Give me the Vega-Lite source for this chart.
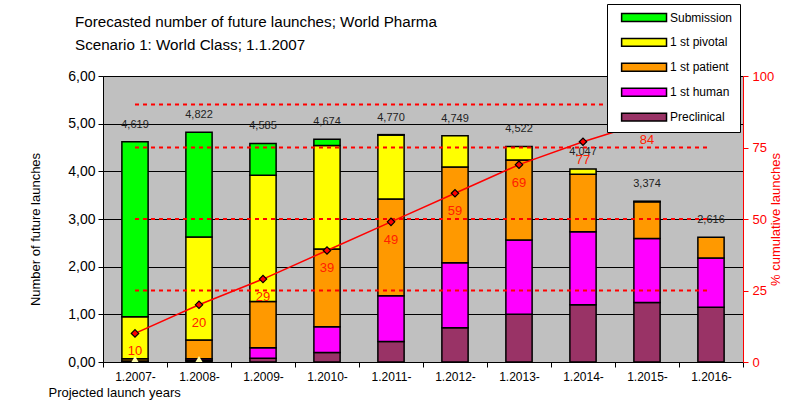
{
  "$schema": "https://vega.github.io/schema/vega-lite/v6.json",
  "width": 640,
  "height": 286,
  "autosize": {"type": "none"},
  "padding": {"left": 103, "top": 76, "right": 60, "bottom": 41},
  "title": {
    "text": ["Forecasted number of future launches; World Pharma", "\u00a0Scenario 1: World Class; 1.1.2007"],
    "anchor": "start",
    "frame": "group",
    "dx": -28,
    "offset": -50,
    "fontSize": 15.2,
    "fontWeight": "normal",
    "lineHeight": 23,
    "color": "#000"
  },
  "config": {
    "font": "Liberation Sans",
    "view": {"fill": "#C0C0C0", "stroke": null},
    "locale": {"number": {"decimal": ",", "thousands": ".", "grouping": [3], "currency": ["", ""]}}
  },
  "datasets": {
    "stages": [
      {"year": "1.2007-", "stage": "Preclinical", "phase": 1, "value": 0.01},
      {"year": "1.2007-", "stage": "1 st human", "phase": 2, "value": 0.01},
      {"year": "1.2007-", "stage": "1 st patient", "phase": 3, "value": 0.05},
      {"year": "1.2007-", "stage": "1 st pivotal", "phase": 4, "value": 0.88},
      {"year": "1.2007-", "stage": "Submission", "phase": 5, "value": 3.669},
      {"year": "1.2008-", "stage": "Preclinical", "phase": 1, "value": 0.03},
      {"year": "1.2008-", "stage": "1 st human", "phase": 2, "value": 0.04},
      {"year": "1.2008-", "stage": "1 st patient", "phase": 3, "value": 0.39},
      {"year": "1.2008-", "stage": "1 st pivotal", "phase": 4, "value": 2.16},
      {"year": "1.2008-", "stage": "Submission", "phase": 5, "value": 2.202},
      {"year": "1.2009-", "stage": "Preclinical", "phase": 1, "value": 0.08},
      {"year": "1.2009-", "stage": "1 st human", "phase": 2, "value": 0.22},
      {"year": "1.2009-", "stage": "1 st patient", "phase": 3, "value": 0.97},
      {"year": "1.2009-", "stage": "1 st pivotal", "phase": 4, "value": 2.65},
      {"year": "1.2009-", "stage": "Submission", "phase": 5, "value": 0.665},
      {"year": "1.2010-", "stage": "Preclinical", "phase": 1, "value": 0.20},
      {"year": "1.2010-", "stage": "1 st human", "phase": 2, "value": 0.54},
      {"year": "1.2010-", "stage": "1 st patient", "phase": 3, "value": 1.63},
      {"year": "1.2010-", "stage": "1 st pivotal", "phase": 4, "value": 2.17},
      {"year": "1.2010-", "stage": "Submission", "phase": 5, "value": 0.134},
      {"year": "1.2011-", "stage": "Preclinical", "phase": 1, "value": 0.43},
      {"year": "1.2011-", "stage": "1 st human", "phase": 2, "value": 0.96},
      {"year": "1.2011-", "stage": "1 st patient", "phase": 3, "value": 2.03},
      {"year": "1.2011-", "stage": "1 st pivotal", "phase": 4, "value": 1.34},
      {"year": "1.2011-", "stage": "Submission", "phase": 5, "value": 0.01},
      {"year": "1.2012-", "stage": "Preclinical", "phase": 1, "value": 0.72},
      {"year": "1.2012-", "stage": "1 st human", "phase": 2, "value": 1.36},
      {"year": "1.2012-", "stage": "1 st patient", "phase": 3, "value": 2.01},
      {"year": "1.2012-", "stage": "1 st pivotal", "phase": 4, "value": 0.659},
      {"year": "1.2013-", "stage": "Preclinical", "phase": 1, "value": 1.00},
      {"year": "1.2013-", "stage": "1 st human", "phase": 2, "value": 1.56},
      {"year": "1.2013-", "stage": "1 st patient", "phase": 3, "value": 1.68},
      {"year": "1.2013-", "stage": "1 st pivotal", "phase": 4, "value": 0.282},
      {"year": "1.2014-", "stage": "Preclinical", "phase": 1, "value": 1.20},
      {"year": "1.2014-", "stage": "1 st human", "phase": 2, "value": 1.53},
      {"year": "1.2014-", "stage": "1 st patient", "phase": 3, "value": 1.21},
      {"year": "1.2014-", "stage": "1 st pivotal", "phase": 4, "value": 0.107},
      {"year": "1.2015-", "stage": "Preclinical", "phase": 1, "value": 1.25},
      {"year": "1.2015-", "stage": "1 st human", "phase": 2, "value": 1.34},
      {"year": "1.2015-", "stage": "1 st patient", "phase": 3, "value": 0.77},
      {"year": "1.2015-", "stage": "1 st pivotal", "phase": 4, "value": 0.014},
      {"year": "1.2016-", "stage": "Preclinical", "phase": 1, "value": 1.15},
      {"year": "1.2016-", "stage": "1 st human", "phase": 2, "value": 1.03},
      {"year": "1.2016-", "stage": "1 st patient", "phase": 3, "value": 0.436}
    ],
    "totals": [
      {"year": "1.2007-", "total": 4.619},
      {"year": "1.2008-", "total": 4.822},
      {"year": "1.2009-", "total": 4.585},
      {"year": "1.2010-", "total": 4.674},
      {"year": "1.2011-", "total": 4.770},
      {"year": "1.2012-", "total": 4.749},
      {"year": "1.2013-", "total": 4.522},
      {"year": "1.2014-", "total": 4.047},
      {"year": "1.2015-", "total": 3.374},
      {"year": "1.2016-", "total": 2.616}
    ],
    "cumulative": [
      {"year": "1.2007-", "pct": 10},
      {"year": "1.2008-", "pct": 20},
      {"year": "1.2009-", "pct": 29},
      {"year": "1.2010-", "pct": 39},
      {"year": "1.2011-", "pct": 49},
      {"year": "1.2012-", "pct": 59},
      {"year": "1.2013-", "pct": 69},
      {"year": "1.2014-", "pct": 77},
      {"year": "1.2015-", "pct": 84},
      {"year": "1.2016-", "pct": 90}
    ],
    "levels": [
      {"year": "1.2007-", "level": 25},
      {"year": "1.2016-", "level": 25},
      {"year": "1.2007-", "level": 50},
      {"year": "1.2016-", "level": 50},
      {"year": "1.2007-", "level": 75},
      {"year": "1.2016-", "level": 75},
      {"year": "1.2007-", "level": 90},
      {"year": "1.2016-", "level": 90}
    ],
    "markers": [
      {"year": "1.2007-", "value": 0},
      {"year": "1.2008-", "value": 0}
    ]
  },
  "encoding": {
    "x": {
      "field": "year", "type": "nominal",
      "scale": {"paddingInner": 0, "paddingOuter": 0},
      "axis": {
        "title": "Projected launch years",
        "titleX": -55, "titleY": 30, "titleAlign": "left", "titleBaseline": "middle",
        "titleFontSize": 13, "titleFontWeight": "normal", "titleColor": "#000",
        "labelAngle": 0, "labelFontSize": 12, "labelColor": "#000", "labelPadding": 4,
        "tickBand": "extent", "tickSize": 5, "tickColor": "#000", "domainColor": "#000", "grid": false
      }
    }
  },
  "layer": [
    {
      "layer": [
        {
          "data": {"name": "stages"},
          "mark": {"type": "bar", "width": {"band": 0.41}, "stroke": "#000", "strokeWidth": 1.5},
          "encoding": {
            "y": {
              "field": "value", "type": "quantitative", "stack": "zero",
              "scale": {"domain": [0, 6], "nice": false},
              "axis": {
                "title": "Number of future launches",
                "values": [0, 1, 2, 3, 4, 5, 6], "format": ".2f",
                "grid": true, "gridColor": "#000", "gridWidth": 1, "gridOpacity": 1,
                "domainColor": "#000", "tickColor": "#000", "tickSize": 5,
                "labelFontSize": 14, "labelColor": "#000", "labelPadding": 3,
                "titleFontSize": 13, "titleFontWeight": "normal", "titleColor": "#000",
                "titleX": -68, "titleY": 153, "titleAngle": 270, "titleAlign": "center", "titleBaseline": "middle"
              }
            },
            "color": {
              "field": "stage", "type": "nominal",
              "scale": {
                "domain": ["Submission", "1 st pivotal", "1 st patient", "1 st human", "Preclinical"],
                "range": ["#00FF00", "#FFFF00", "#FF9900", "#FF00FF", "#993366"]
              },
              "legend": {
                "orient": "none", "legendX": 504, "legendY": -72,
                "title": null, "fillColor": "#FFFFFF", "strokeColor": "#000", "padding": 7,
                "symbolType": "M0.2,-0.7H8.2V0.7H0.2Z", "symbolSize": 126,
                "symbolStrokeColor": "#000", "symbolStrokeWidth": 1.5, "symbolOpacity": 1,
                "labelFontSize": 12, "labelOffset": 43, "rowPadding": 9.9, "labelColor": "#000"
              }
            },
            "order": {"field": "phase", "type": "quantitative", "sort": "ascending"}
          }
        },
        {
          "data": {"name": "totals"},
          "mark": {"type": "text", "dy": -17, "fontSize": 11, "color": "#222"},
          "encoding": {
            "y": {"field": "total", "type": "quantitative"},
            "text": {"field": "total", "type": "quantitative", "format": ".3f"}
          }
        }
      ]
    },
    {
      "layer": [
        {
          "data": {"name": "levels"},
          "mark": {"type": "line", "color": "#FF0000", "strokeWidth": 2, "strokeDash": [4, 4]},
          "encoding": {
            "y": {
              "field": "level", "type": "quantitative",
              "scale": {"domain": [0, 100], "nice": false},
              "axis": {
                "orient": "right", "title": "% cumulative launches",
                "values": [0, 25, 50, 75, 100], "grid": false,
                "domainColor": "#FF0000", "tickColor": "#FF0000", "tickSize": 5,
                "labelColor": "#FF0000", "labelFontSize": 13, "labelPadding": 4,
                "titleColor": "#FF0000", "titleFontSize": 13, "titleFontWeight": "normal",
                "titleAngle": 270, "titleX": 32, "titleY": 143, "titleAlign": "center", "titleBaseline": "middle"
              }
            },
            "detail": {"field": "level", "type": "nominal"}
          }
        },
        {
          "data": {"name": "cumulative"},
          "mark": {"type": "line", "color": "#FF0000", "strokeWidth": 1.5},
          "encoding": {
            "y": {"field": "pct", "type": "quantitative"}
          }
        },
        {
          "data": {"name": "cumulative"},
          "mark": {"type": "point", "shape": "diamond", "filled": true, "fill": "#FF0000", "stroke": "#000", "strokeWidth": 1.2, "size": 55, "opacity": 1},
          "encoding": {
            "y": {"field": "pct", "type": "quantitative"}
          }
        },
        {
          "data": {"name": "cumulative"},
          "mark": {"type": "text", "dy": 18, "fontSize": 13, "color": "#FF2000"},
          "encoding": {
            "y": {"field": "pct", "type": "quantitative"},
            "text": {"field": "pct", "type": "quantitative", "format": "d"}
          }
        },
        {
          "data": {"name": "markers"},
          "mark": {"type": "point", "shape": "triangle-up", "filled": true, "fill": "#FFFFB0", "strokeWidth": 0, "size": 50, "opacity": 1, "yOffset": -3},
          "encoding": {
            "y": {"field": "value", "type": "quantitative"}
          }
        }
      ]
    }
  ],
  "resolve": {"scale": {"y": "independent"}}
}
